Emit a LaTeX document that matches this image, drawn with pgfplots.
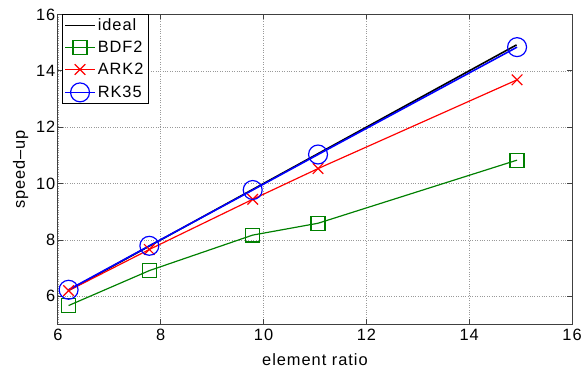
\documentclass[border=0pt]{standalone}
\usepackage{pgfplots}
\pgfplotsset{compat=1.18}
\usepackage{fontspec}
\setmainfont{Liberation Sans}[LetterSpace=6]
\definecolor{mgreen}{rgb}{0,0.5,0}
\newcommand{\bigf}{\fontsize{16.5}{19}\selectfont}
\begin{document}
\begin{tikzpicture}
\begin{axis}[
  scale only axis,
  width=516bp, height=311bp,
  xmin=6, xmax=16, ymin=5, ymax=16,
  xtick={6,8,...,16}, ytick={6,8,...,16},
  grid=major,
  major grid style={dotted, gray!80, line width=0.6pt},
  tick align=inside,
  major tick length=5bp,
  axis line style={black!75, line width=0.7pt},
  tick style={black!75, line width=0.7pt},
  /pgf/number format/assume math mode=true,
  tick label style={font=\bigf},
  xticklabel style={yshift=-1bp},
  yticklabel style={xshift=1bp},
  label style={font=\bigf},
  xlabel={element ratio},
  ylabel={speed--up},
  xlabel style={at={(axis description cs:0.5,-0.1125)}, anchor=center},
  ylabel style={at={(axis description cs:-0.0721,0.5)}, anchor=center},
  legend style={draw=black, line width=0.8pt, inner sep=2pt, row sep=5bp,
    at={(0.008,1)}, anchor=north west, font=\bigf,
    nodes={text width=47bp, align=left}},
  legend image code/.code={\draw[mark repeat=2,mark phase=2,#1] plot coordinates {(0bp,0bp) (15bp,0bp) (30bp,0bp)};},
]
\addplot[black, line width=1.6pt] coordinates {(6.21,6.21) (14.92,14.92)};
\addlegendentry{ideal}
\addplot[mgreen, line width=1.2pt, mark=square, mark size=7bp, mark options={line width=1.2pt}] coordinates {
(6.21,5.67) (7.78,6.91) (9.79,8.17) (11.06,8.59) (14.93,10.83)};
\addlegendentry{BDF2}
\addplot[red, line width=1.2pt, mark=x, mark size=7.5bp, mark options={line width=1.2pt}] coordinates {
(6.21,6.20) (7.78,7.66) (9.79,9.44) (11.06,10.53) (14.93,13.68)};
\addlegendentry{ARK2}
\addplot[blue, line width=1.6pt, mark=o, mark size=9.5bp, mark options={line width=1.2pt}] coordinates {
(6.21,6.23) (7.78,7.79) (9.79,9.77) (11.06,11.03) (14.93,14.84)};
\addlegendentry{RK35}
\path (axis description cs:0,0) coordinate (BL);
\path (axis description cs:1,1) coordinate (TR);
\end{axis}
\path (BL) ++(-58bp,-47bp);
\path (TR) ++(11bp,14.5bp);
\end{tikzpicture}
\end{document}
